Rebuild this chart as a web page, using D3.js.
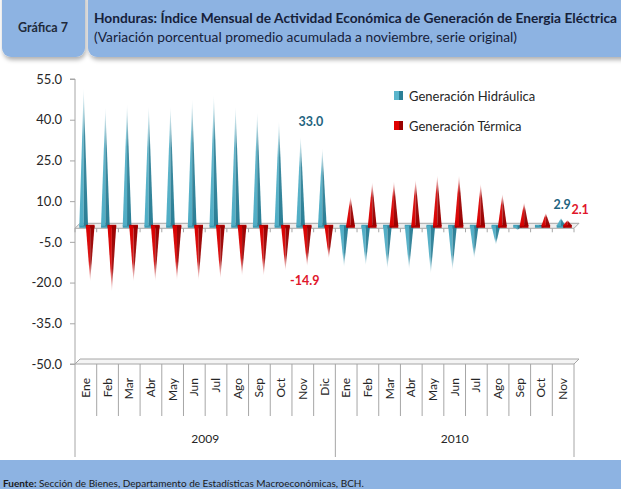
<!DOCTYPE html>
<html lang="es">
<head>
<meta charset="UTF-8">
<title>Gráfica 7</title>
<script src="https://d3js.org/d3.v7.min.js"></script>
<style>
  body { margin: 0; background: #fff; }
  svg { display: block; }
  svg * { font-family: 'Lato', 'Open Sans', sans-serif; }
</style>
</head>
<body>
<svg></svg>
<script>
// months per year
const months2009 = ["Ene", "Feb", "Mar", "Abr", "May", "Jun", "Jul", "Ago", "Sep", "Oct", "Nov", "Dic"];
const months2010 = ["Ene", "Feb", "Mar", "Abr", "May", "Jun", "Jul", "Ago", "Sep", "Oct", "Nov"];
const years = ["2009", "2010"];
const hidraulica = [50.8, 43.7, 45.0, 44.0, 44.0, 46.7, 48.3, 44.0, 41.9, 38.7, 33.0, 28.7,
                    -15.2, -14.6, -15.8, -16.0, -17.6, -16.3, -12.0, -7.0, -1.6, 0.5, 2.9];
const termica = [-20.5, -24.2, -20.5, -20.3, -20.0, -20.0, -19.4, -18.4, -18.4, -16.5, -14.9, -12.0,
                 10.8, 16.0, 16.4, 17.0, 18.6, 18.6, 15.5, 11.7, 8.6, 4.7, 2.1];
const yTicks = [55, 40, 25, 10, -5, -20, -35, -50];
const labelled = [10, 22]; // Nov 2009, Nov 2010

const cats = months2009.map(m => "2009-" + m).concat(months2010.map(m => "2010-" + m));
const fmt = v => d3.format(".1f")(v).replace("\u2212", "-");

const width = 621, height = 489;
const svg = d3.select("svg").attr("width", width).attr("height", height);

const x = d3.scaleBand().domain(cats).range([75, 574]);
const y = d3.scaleLinear().domain([-50, 55]).range([364, 79]);
const bw = x.bandwidth();
const depth = 5;

// gradients
const defs = svg.append("defs");
function grad(id, color, up) {
  const g = defs.append("linearGradient").attr("id", id)
    .attr("x1", 0).attr("x2", 0)
    .attr("y1", up ? 1 : 0).attr("y2", up ? 0 : 1);
  g.append("stop").attr("offset", 0).attr("stop-color", color).attr("stop-opacity", 1);
  g.append("stop").attr("offset", 0.65).attr("stop-color", color).attr("stop-opacity", 0.9);
  g.append("stop").attr("offset", 1).attr("stop-color", color).attr("stop-opacity", 0.05);
}
grad("tealL-up", "#4fadc5", true); grad("tealD-up", "#2b7f96", true);
grad("tealL-dn", "#4fadc5", false); grad("tealD-dn", "#2b7f96", false);
grad("redL-up", "#d80000", true); grad("redD-up", "#9a0000", true);
grad("redL-dn", "#d80000", false); grad("redD-dn", "#9a0000", false);

const shadow = defs.append("filter").attr("id", "sh").attr("x", "-10%").attr("y", "-10%").attr("width", "130%").attr("height", "140%");
shadow.append("feDropShadow").attr("dx", 1).attr("dy", 3).attr("stdDeviation", 2).attr("flood-color", "#000").attr("flood-opacity", 0.3);

// header boxes
svg.append("rect").attr("x", 2).attr("y", -12).attr("width", 83).attr("height", 69)
  .attr("rx", 9).attr("fill", "#8db3e2").attr("filter", "url(#sh)");
svg.append("text").attr("x", 43).attr("y", 32).attr("text-anchor", "middle")
  .attr("font-size", 12.5).attr("font-weight", "bold").attr("fill", "#1f2a3a").text("Gráfica 7");
svg.append("rect").attr("x", 88).attr("y", -12).attr("width", 560).attr("height", 69)
  .attr("rx", 9).attr("fill", "#8db3e2").attr("filter", "url(#sh)");
svg.append("text").attr("x", 94).attr("y", 23).attr("font-size", 13).attr("font-weight", "bold")
  .attr("fill", "#16213a").attr("textLength", 523).attr("lengthAdjust", "spacingAndGlyphs")
  .text("Honduras: Índice Mensual de Actividad Económica de Generación de Energia Eléctrica");
svg.append("text").attr("x", 94).attr("y", 42).attr("font-size", 13)
  .attr("fill", "#16213a").attr("textLength", 423).attr("lengthAdjust", "spacingAndGlyphs")
  .text("(Variación porcentual promedio acumulada a noviembre, serie original)");

// footer
svg.append("rect").attr("x", 0).attr("y", 460).attr("width", width).attr("height", 40).attr("fill", "#8db3e2");
const ft = svg.append("text").attr("x", 3).attr("y", 487).attr("font-size", 10).attr("fill", "#1a1a1a");
ft.append("tspan").attr("font-weight", "bold").text("Fuente: ");
ft.append("tspan").text("Sección de Bienes, Departamento de Estadísticas Macroeconómicas, BCH.");

// floor at -50 and zero plane
const x0 = x.range()[0], x1 = x.range()[1];
function plane(v, fill) {
  const yy = y(v);
  svg.append("path")
    .attr("d", `M${x0},${yy}L${x1},${yy}L${x1 + depth},${yy - depth}L${x0 + depth},${yy - depth}Z`)
    .attr("fill", fill).attr("stroke", "#a6a6a6").attr("stroke-width", 1);
}
plane(-50, "#f4f4f4");
plane(0, "#ededed");

// tick marks under the zero plane
svg.append("g").selectAll("line").data(d3.range(cats.length + 1)).join("line")
  .attr("x1", i => x0 + i * bw).attr("x2", i => x0 + i * bw)
  .attr("y1", y(0)).attr("y2", y(0) + 4)
  .attr("stroke", "#a6a6a6");

// y axis
const yAxis = svg.append("g").attr("transform", `translate(${x0},0)`)
  .call(d3.axisLeft(y).tickValues(yTicks).tickFormat(fmt).tickSize(5).tickPadding(8));
yAxis.select(".domain").attr("stroke", "#a6a6a6").attr("d", `M-5,${y(55)}H0V${y(-50)}H-5`);
yAxis.selectAll(".tick line").attr("stroke", "#a6a6a6");
yAxis.selectAll("text").attr("font-size", 13).attr("fill", "#262626");

// pyramids
function spike(g, cx, v, col) {
  const up = v >= 0;
  const base = y(0) - depth / 2;
  const tip = y(v) - depth / 2;
  const hw = bw * 0.2;
  const dir = up ? "up" : "dn";
  g.append("rect").attr("x", cx - hw).attr("y", base - 1).attr("width", hw * 2).attr("height", 3)
    .attr("fill", col === "teal" ? "#3f9bb3" : "#b00000");
  g.append("path").attr("d", `M${cx - hw},${base}L${cx},${base}L${cx},${tip}Z`)
    .attr("fill", `url(#${col}L-${dir})`);
  g.append("path").attr("d", `M${cx},${base}L${cx + hw},${base}L${cx},${tip}Z`)
    .attr("fill", `url(#${col}D-${dir})`);
}
const gs = svg.append("g");
cats.forEach((c, i) => {
  spike(gs, x(c) + bw * 0.4, hidraulica[i], "teal");
  spike(gs, x(c) + bw * 0.7, termica[i], "red");
});

// data labels
svg.append("g").selectAll("text").data(labelled).join("text")
  .attr("x", i => x(cats[i]) + bw * 0.5 + (i === 22 ? -1 : 8))
  .attr("y", i => i === 22 ? 209 : y(hidraulica[i]) - 13)
  .attr("text-anchor", "middle").attr("font-size", 12.5).attr("font-weight", "bold")
  .attr("fill", "#1f6480").text(i => fmt(hidraulica[i]));
svg.append("g").selectAll("text").data(labelled).join("text")
  .attr("x", i => x(cats[i]) + bw * 0.5 + (i === 22 ? 17 : 2))
  .attr("y", i => i === 22 ? 214 : y(termica[i]) + 16)
  .attr("text-anchor", "middle").attr("font-size", 12.5).attr("font-weight", "bold")
  .attr("fill", "#e0162b").text(i => fmt(termica[i]));

// category axis
const catAxis = svg.append("g");
catAxis.selectAll("line.m").data(d3.range(cats.length + 1)).join("line").attr("class", "m")
  .attr("x1", i => x0 + i * bw).attr("x2", i => x0 + i * bw)
  .attr("y1", y(-50)).attr("y2", i => (i === 0 || i === 12 || i === 23) ? 457 : 416)
  .attr("stroke", "#a6a6a6");
catAxis.selectAll("text.m").data(cats).join("text").attr("class", "m")
  .attr("transform", c => `translate(${x(c) + bw / 2 + 4},378) rotate(-90)`)
  .attr("text-anchor", "end").attr("font-size", 12).attr("fill", "#262626")
  .text(c => c.split("-")[1]);
catAxis.selectAll("text.y").data(years).join("text").attr("class", "y")
  .attr("x", (d, i) => i === 0 ? (x0 + x0 + 12 * bw) / 2 : (x0 + 12 * bw + x1) / 2)
  .attr("y", 443).attr("text-anchor", "middle").attr("font-size", 12).attr("fill", "#262626")
  .text(d => d);

// legend
const legend = svg.append("g");
const items = [["Generación Hidráulica", "teal"], ["Generación Térmica", "red"]];
items.forEach((it, i) => {
  const ly = 96 + i * 30;
  legend.append("rect").attr("x", 394).attr("y", ly - 5).attr("width", 5).attr("height", 9).attr("fill", it[1] === "teal" ? "#5ab5cc" : "#e00000");
  legend.append("rect").attr("x", 399).attr("y", ly - 5).attr("width", 4).attr("height", 9).attr("fill", it[1] === "teal" ? "#2b7f96" : "#9a0000");
  legend.append("text").attr("x", 409).attr("y", ly + 4.5).attr("font-size", 13).attr("fill", "#262626").text(it[0]);
});
</script>
</body>
</html>
